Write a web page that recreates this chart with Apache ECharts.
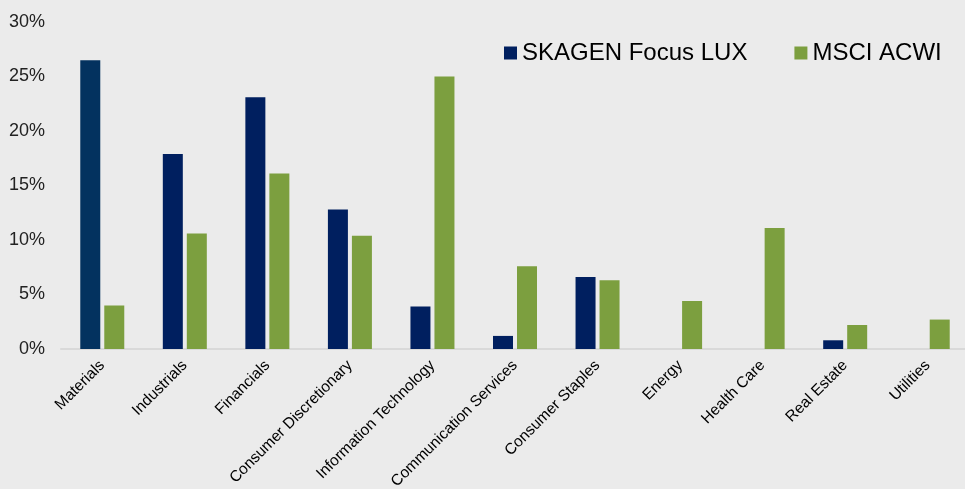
<!DOCTYPE html>
<html lang="en">
<head>
    <meta charset="utf-8"/>
    <title>Sector weights</title>
    <script src="https://cdn.jsdelivr.net/npm/echarts@6/dist/echarts.min.js"></script>
</head>
<body style="margin:0;background-color:#ebebeb;">
<div id="echarts" style="width:965px;height:489px;"></div>
<script type="text/javascript">
    // sector names
    var sectors = ['Materials', 'Industrials', 'Financials', 'Consumer Discretionary', 'Information Technology',
        'Communication Services', 'Consumer Staples', 'Energy', 'Health Care', 'Real Estate', 'Utilities'];
    // fund weights, %
    var fundValues = [26.5, 17.9, 23.1, 12.8, 3.9, 1.2, 6.6, 0, 0, 0.8, 0];
    // index weights, %
    var indexValues = [4.0, 10.6, 16.1, 10.4, 25.0, 7.6, 6.3, 4.4, 11.1, 2.2, 2.7];
    var seriesNames = ['SKAGEN Focus LUX', 'MSCI ACWI'];
    var yTicks = [0, 5, 10, 15, 20, 25, 30];

    var myChart = echarts.init(document.getElementById('echarts'));
    var option = {
        backgroundColor: '#ebebeb',
        textStyle: {fontFamily: 'Liberation Sans, Arial, sans-serif'},
        legend: {
            data: [
                {name: seriesNames[0], itemStyle: {color: '#001f5f'}},
                {name: seriesNames[1]}
            ],
            left: 499,
            top: 36,
            itemWidth: 13,
            itemHeight: 13,
            itemGap: 47,
            icon: 'rect',
            textStyle: {fontSize: 24, color: '#000'}
        },
        // keep the plot area fixed, labels may run off the bottom edge
        grid: {left: 61, right: -4, top: 22, bottom: 140, outerBoundsMode: 'none', containLabel: false},
        xAxis: {
            type: 'category',
            data: sectors,
            axisTick: {show: false},
            axisLine: {lineStyle: {color: '#d9d9d9', width: 2}},
            axisLabel: {rotate: 45, fontSize: 15.5, color: '#000', margin: 14, interval: 0}
        },
        yAxis: {
            type: 'value',
            min: yTicks[0],
            max: yTicks[yTicks.length - 1],
            interval: 5,
            splitLine: {show: false},
            axisLine: {show: false},
            axisTick: {show: false},
            axisLabel: {formatter: '{value}%', fontSize: 18, color: '#222', margin: 16}
        },
        series: [{
            name: seriesNames[0],
            type: 'bar',
            data: fundValues,
            barWidth: 20,
            barGap: '20%',
            itemStyle: {
                color: function (p) {
                    return p.dataIndex === 0 ? '#03325f' : '#001f5f';
                }
            }
        }, {
            name: seriesNames[1],
            type: 'bar',
            data: indexValues,
            barWidth: 20,
            itemStyle: {color: '#7c9f3f'}
        }]
    };
    myChart.setOption(option);
</script>
</body>
</html>
